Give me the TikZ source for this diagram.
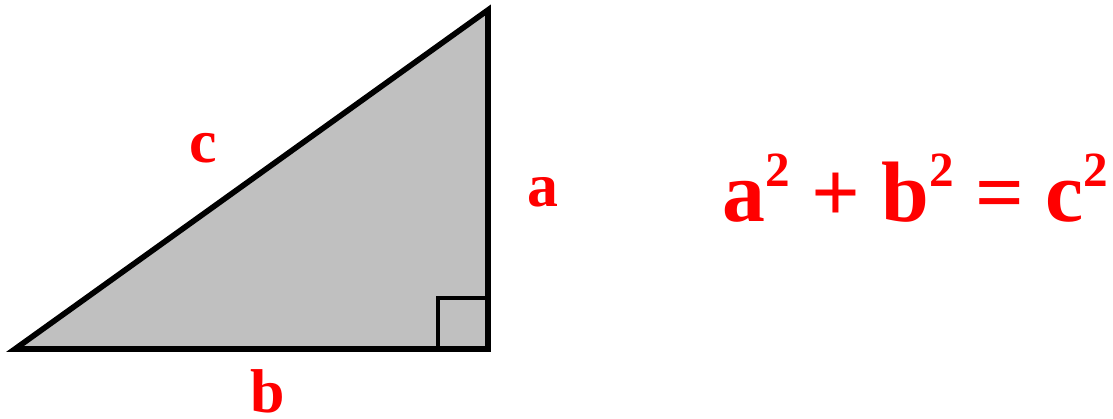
\documentclass[tikz,border=0pt]{standalone}
\usepackage{fontspec}
\setmainfont{Liberation Serif}
\definecolor{silver}{RGB}{192,192,192}
\newcommand{\sqr}{\raisebox{25pt}{\fontsize{35}{36}\selectfont 2}}
\begin{document}
\begin{tikzpicture}[x=0.025cm,y=-0.025cm,
  lbl/.style={text=red,font=\fontsize{44}{46}\selectfont\bfseries,inner sep=0pt},
  eq/.style={text=red,font=\fontsize{61}{64}\selectfont\bfseries,inner sep=0pt}]
\useasboundingbox (0,0) rectangle (1113,419);
\coordinate (A) at (15,349);
\coordinate (B) at (488,10);
\coordinate (C) at (488,349);
\filldraw[fill=silver,draw=black,line width=4pt,line join=miter] (A) -- (B) -- (C) -- cycle;
\draw[line width=2.4pt] (488,298) -| (438,349);
\node[lbl] (c) at (203,148) {c};
\node[lbl] (a) at (543,192) {a};
\node[lbl] (b) at (268,391) {b};
\node[eq,anchor=base west] (e) at (722,222) {a\sqr{} + b\sqr{} = c\sqr};
\end{tikzpicture}
\end{document}
